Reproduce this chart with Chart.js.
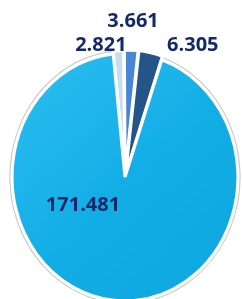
<!DOCTYPE html>
<html>
<head>
<meta charset="utf-8">
<script src="https://cdn.jsdelivr.net/npm/chart.js@4.4.0/dist/chart.umd.min.js"></script>
<style>
  html, body { margin: 0; padding: 0; background: #fff; }
  #pie { display: block; }
</style>
</head>
<body>
<canvas id="pie" width="242" height="299"></canvas>
<script>
var labels = ['2.821', '3.661', '6.305', '171.481'];
var values = [2.821, 3.661, 6.305, 171.481];
var colors = ['#c9dcf1', '#4a84d4', '#255489', '#15aee7'];
var offsets = [5, 6, 7, 0];

// the original pie is slightly tilted, so it's drawn as an ellipse
var ellipse = { cx: 125, cy: 177, rx: 113, ry: 124 };

// where each value label sits, relative to its slice
var labelPlace = [
  { r: 1, dx: 8, dy: -8, align: 'right' },
  { r: 1, dx: 2, dy: -32, align: 'center' },
  { r: 1, dx: 17, dy: -11, align: 'left' },
  { r: 0, dx: -42, dy: 28, align: 'center' }
];

function toEllipse(arc, px, py) {
  return {
    x: ellipse.cx + (px - arc.x) * ellipse.rx / arc.outerRadius,
    y: ellipse.cy + (py - arc.y) * ellipse.ry / arc.outerRadius
  };
}

var squash = {
  id: 'squash',
  beforeDatasetsDraw: function(chart) {
    var meta = chart.getDatasetMeta(0);
    var arc = meta.data[0];
    var big = meta.data[meta.data.length - 1];
    var ctx = chart.ctx;
    ctx.save();
    ctx.translate(ellipse.cx, ellipse.cy);
    ctx.scale(ellipse.rx / arc.outerRadius, ellipse.ry / arc.outerRadius);
    ctx.translate(-arc.x, -arc.y);
    // soft gray rim round the big slice
    ctx.beginPath();
    ctx.arc(arc.x, arc.y, arc.outerRadius + 1.5, big.startAngle, big.endAngle);
    ctx.lineWidth = 2;
    ctx.strokeStyle = '#c6c6c6';
    ctx.stroke();
  },
  afterDatasetsDraw: function(chart) {
    chart.ctx.restore();
  }
};

var valueLabels = {
  id: 'valueLabels',
  afterDraw: function(chart) {
    var ctx = chart.ctx;
    var meta = chart.getDatasetMeta(0);
    ctx.save();
    ctx.font = 'bold 20px "Open Sans", Lato, sans-serif';
    ctx.fillStyle = '#13296a';
    ctx.textBaseline = 'middle';
    meta.data.forEach(function(arc, i) {
      var p = labelPlace[i];
      var mid = (arc.startAngle + arc.endAngle) / 2;
      var pt = toEllipse(arc,
        arc.x + Math.cos(mid) * arc.outerRadius * p.r,
        arc.y + Math.sin(mid) * arc.outerRadius * p.r);
      ctx.textAlign = p.align;
      ctx.fillText(labels[i], pt.x + p.dx, pt.y + p.dy);
    });
    ctx.restore();
  }
};

function bigFill(context) {
  var c = context.chart.ctx;
  var g = c.createLinearGradient(0, 0, 242, 299);
  g.addColorStop(0, '#34c4f3');
  g.addColorStop(0.5, '#14aee7');
  g.addColorStop(1, '#0aa4de');
  return g;
}

new Chart(document.getElementById('pie').getContext('2d'), {
  type: 'pie',
  data: {
    labels: labels,
    datasets: [{
      data: values,
      backgroundColor: function(context) {
        if (context.dataIndex === values.length - 1) return bigFill(context);
        return colors[context.dataIndex];
      },
      borderColor: '#ffffff',
      borderWidth: 3,
      offset: offsets,
      clip: false
    }]
  },
  options: {
    responsive: false,
    animation: false,
    rotation: -6,
    layout: { padding: 8 },
    plugins: {
      legend: { display: false },
      tooltip: { enabled: false }
    }
  },
  plugins: [squash, valueLabels]
});
</script>
</body>
</html>
